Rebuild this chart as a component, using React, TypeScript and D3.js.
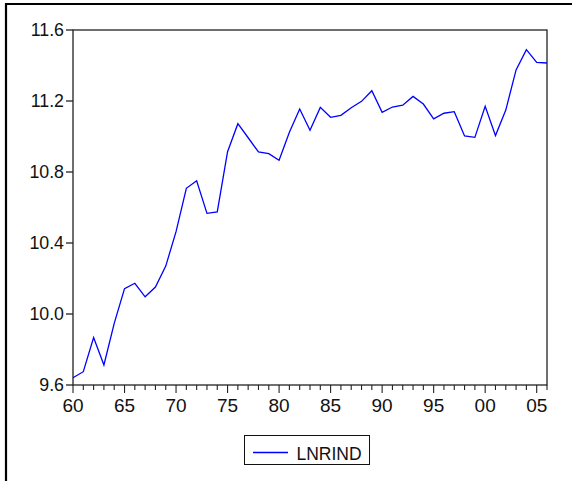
import React from "react";
import * as d3 from "d3";

const years: number[] = [
  1960, 1961, 1962, 1963, 1964, 1965, 1966, 1967, 1968, 1969,
  1970, 1971, 1972, 1973, 1974, 1975, 1976, 1977, 1978, 1979,
  1980, 1981, 1982, 1983, 1984, 1985, 1986, 1987, 1988, 1989,
  1990, 1991, 1992, 1993, 1994, 1995, 1996, 1997, 1998, 1999,
  2000, 2001, 2002, 2003, 2004, 2005, 2006,
];
const lnrind: number[] = [
  9.641, 9.675, 9.867, 9.713, 9.947, 10.143, 10.173, 10.097, 10.152, 10.27,
  10.464, 10.708, 10.751, 10.567, 10.575, 10.914, 11.072, 10.993, 10.913, 10.903,
  10.866, 11.024, 11.155, 11.035, 11.164, 11.108, 11.119, 11.162, 11.198, 11.258,
  11.136, 11.166, 11.176, 11.226, 11.183, 11.099, 11.131, 11.14, 11.003, 10.995,
  11.17, 11.005, 11.149, 11.375, 11.489, 11.418, 11.414,
];
const yTicks: number[] = [9.6, 10.0, 10.4, 10.8, 11.2, 11.6];
const xMajor: number[] = [1960, 1965, 1970, 1975, 1980, 1985, 1990, 1995, 2000, 2005];
const seriesName = "LNRIND";

export default function App() {
  const left = 73, right = 547, top = 30, bottom = 385;
  const x = d3.scaleLinear().domain([1960, 2006]).range([left, right]);
  const y = d3.scaleLinear().domain([9.6, 11.6]).range([bottom, top]);
  const line = d3
    .line<number>()
    .x((_, i) => x(years[i]))
    .y((d) => y(d));
  const minor = d3.range(1960, 2007);
  const font = "Liberation Sans, Arial, Helvetica, sans-serif";
  return (
    <svg
      width={572}
      height={481}
      style={{ position: "absolute", left: 0, top: 0, background: "#fff" }}
    >
      <rect x={0} y={0} width={572} height={481} fill="#fff" />
      {/* outer frame: top and left */}
      <line x1={5} y1={4} x2={572} y2={4} stroke="#000" strokeWidth={2.2} />
      <line x1={6} y1={3} x2={6} y2={481} stroke="#000" strokeWidth={2.2} />
      {/* plot frame */}
      <rect
        x={left}
        y={top}
        width={right - left}
        height={bottom - top}
        fill="none"
        stroke="#222"
        strokeWidth={1.3}
      />
      {/* y ticks */}
      {yTicks.map((t) => (
        <g key={t}>
          <line x1={left - 7} x2={left} y1={y(t)} y2={y(t)} stroke="#222" strokeWidth={1.3} />
          <text
            x={64}
            y={y(t) + 6}
            textAnchor="end"
            fontFamily={font}
            fontSize={17.8}
            fill="#111"
          >
            {t.toFixed(1)}
          </text>
        </g>
      ))}
      {/* x ticks */}
      {minor.map((yr) => {
        const major = xMajor.includes(yr);
        return (
          <line
            key={yr}
            x1={x(yr)}
            x2={x(yr)}
            y1={bottom}
            y2={bottom + (major ? 8 : 5)}
            stroke="#222"
            strokeWidth={1.1}
          />
        );
      })}
      {xMajor.map((yr) => (
        <text
          key={yr}
          x={x(yr)}
          y={411.5}
          textAnchor="middle"
          fontFamily={font}
          fontSize={19}
          fill="#111"
        >
          {String(yr).slice(2)}
        </text>
      ))}
      {/* series */}
      <path d={line(lnrind) || ""} fill="none" stroke="#0000ff" strokeWidth={1.3} />
      {/* legend */}
      <rect x={244.5} y={435.5} width={125} height={29} fill="#fff" stroke="#111" strokeWidth={1} />
      <line x1={253} x2={288} y1={452.5} y2={452.5} stroke="#0000ff" strokeWidth={1.3} />
      <text x={296.5} y={459.5} fontFamily={font} fontSize={17.5} fill="#111">
        {seriesName}
      </text>
    </svg>
  );
}
